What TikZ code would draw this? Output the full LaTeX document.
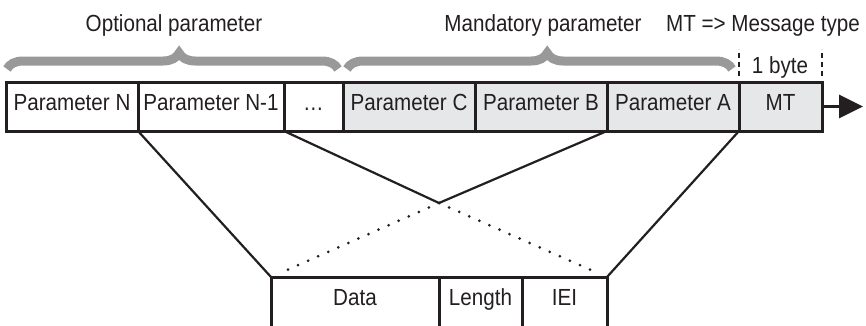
\documentclass[tikz,border=0pt]{standalone}
\usepackage{fontspec}
\setmainfont{Liberation Sans}[FakeStretch=0.885]
\usetikzlibrary{positioning, arrows.meta, decorations.pathreplacing}

\definecolor{cellgray}{HTML}{E6E7E8}
\definecolor{bracegray}{HTML}{999999}
\definecolor{ink}{HTML}{231F20}

\tikzset{
  cell/.style={draw=ink, line width=3pt, minimum height=49pt, inner sep=0pt,
    outer sep=0pt, text height=0.716em, text depth=0pt},
  optcell/.style={cell, fill=white},
  mandcell/.style={cell, fill=cellgray},
  link/.style={ink, line width=2.2pt},
  dotlink/.style={ink, line width=3pt, line cap=round, dash pattern=on 0pt off 11pt, shorten >=10pt},
  grpbrace/.style={bracegray, line width=9pt, decorate,
    decoration={brace, amplitude=16pt, aspect=0.52}},
  bytetick/.style={ink, line width=2.5pt, dash pattern=on 5pt off 4pt},
}

\begin{document}
\begin{tikzpicture}[x=1pt, y=-1pt, node distance=0pt,
    every node/.style={font=\fontsize{23.3}{28}\selectfont, text=ink}]
    \clip (0,0) rectangle (866,325);

    % Message: optional part, mandatory part, message type
    \node[optcell, minimum width=132pt, anchor=north west] (parN) at (6,82) {Parameter N};
    \node[optcell, minimum width=146pt, right=of parN] (parN1) {Parameter N-1};
    \node[optcell, minimum width=59pt, right=of parN1] (pardots) {\dots};
    \node[mandcell, minimum width=132pt, right=of pardots] (parC) {Parameter C};
    \node[mandcell, minimum width=132pt, right=of parC] (parB) {Parameter B};
    \node[mandcell, minimum width=132pt, right=of parB] (parA) {Parameter A};
    \node[mandcell, minimum width=83pt, right=of parA] (mt) {MT};
    \coordinate[right=41pt of mt] (out);
    \draw[-{Triangle[length=24pt, width=23pt]}, ink, line width=3.2pt] (mt.east) -- (out);

    % Layout of one parameter
    \node[optcell, minimum width=168pt, minimum height=50pt, anchor=north west] (data) at (271,277) {Data};
    \node[optcell, minimum width=83pt, minimum height=50pt, right=of data] (len) {Length};
    \node[optcell, minimum width=85pt, minimum height=50pt, right=of len] (iei) {IEI};

    % Lines from the message down to the parameter
    \coordinate (cross) at (439,203);
    \draw[link] (parN.south east) -- (data.north west);
    \draw[link] (parN1.south east) -- (cross) -- (parB.south east);
    \draw[link] (parA.south east) -- (iei.north east);
    \draw[dotlink] (cross) -- (data.north west);
    \draw[dotlink] (cross) -- (iei.north east);

    % Braces and labels
    \draw[grpbrace] (7,69) -- (338,69);
    \draw[grpbrace] (347,69) -- (732,69);
    \node[anchor=base] (optlbl) at (174,31.7) {Optional parameter};
    \node[anchor=base] (mandlbl) at (543,31.7) {Mandatory parameter};
    \node[anchor=base] (mtlbl) at (763,31.7) {MT => Message type};
    \node[anchor=base] (bytelbl) at (780,73) {1 byte};
    \draw[bytetick] (mt.north west) ++(0,-6) -- ++(0,-27);
    \draw[bytetick] (mt.north east) ++(0,-6) -- ++(0,-27);
\end{tikzpicture}
\end{document}
